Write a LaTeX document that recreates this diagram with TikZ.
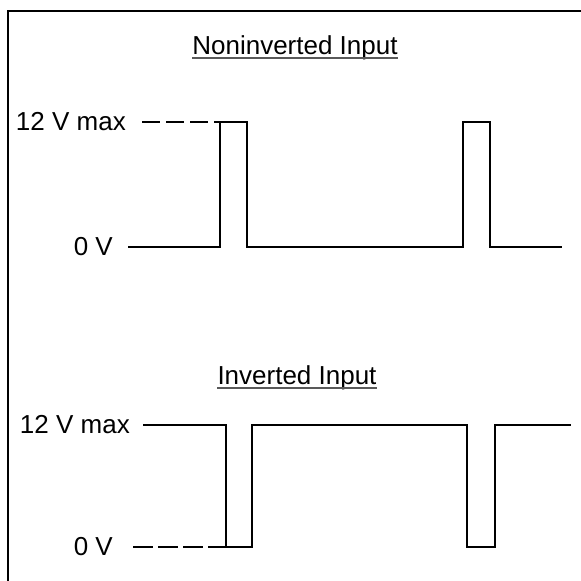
\documentclass[tikz,border=0pt]{standalone}
\usepackage{fontspec}
\setmainfont{Liberation Sans}
\usetikzlibrary{calc}
\begin{document}
\begin{tikzpicture}[x=1pt,y=-1pt,
  lbl/.style={inner sep=0pt,font=\fontsize{26}{28}\selectfont},
  ttl/.style={inner sep=0pt,anchor=base,font=\fontsize{26}{28}\selectfont},
  wave/.style={line width=2.6pt,line join=miter},
  dashlevel/.style={line width=2.6pt,dash pattern=on 18pt off 6pt},
  frame/.style={line width=2pt},
  uline/.style={line width=1.2pt,gray!70!black}]
\useasboundingbox (0,0) rectangle (581,581);
% frame
\coordinate (fc) at (8,11);
\coordinate (fr) at (581,11);
\coordinate (fb) at (8,581);
\draw[frame] (fr) -- (fc) -- (fb);
% titles
\node[ttl] (t1) at (295,54) {Noninverted Input};
\draw[uline] ($(t1.base west)+(0,4)$) -- ($(t1.base east)+(0,4)$);
\node[ttl] (t2) at (297,384) {Inverted Input};
\draw[uline] ($(t2.base west)+(0,4)$) -- ($(t2.base east)+(0,4)$);
% top labels
\node[lbl,anchor=east] (h1) at (126,122) {12 V max};
\node[lbl,anchor=east] (z1) at (113,247) {0 V};
% bottom labels
\node[lbl,anchor=east] (h2) at (130,425) {12 V max};
\node[lbl,anchor=east] (z2) at (113,547) {0 V};
% top waveform
\coordinate (a0) at (128,247);
\coordinate (a1) at (220,247);
\coordinate (a2) at (220,122);
\coordinate (a3) at (247,122);
\coordinate (a4) at (247,247);
\coordinate (a5) at (463,247);
\coordinate (a6) at (463,122);
\coordinate (a7) at (490,122);
\coordinate (a8) at (490,247);
\coordinate (a9) at (562,247);
\coordinate (d1) at (142,122);
\draw[dashlevel] (d1) -- (a2);
\draw[wave] (a0) -- (a1) -- (a2) -- (a3) -- (a4) -- (a5) -- (a6) -- (a7) -- (a8) -- (a9);
% bottom waveform
\coordinate (b0) at (143,425);
\coordinate (b1) at (226,425);
\coordinate (b2) at (226,547);
\coordinate (b3) at (252,547);
\coordinate (b4) at (252,425);
\coordinate (b5) at (467,425);
\coordinate (b6) at (467,547);
\coordinate (b7) at (495,547);
\coordinate (b8) at (495,425);
\coordinate (b9) at (571,425);
\coordinate (d2) at (133,547);
\draw[dashlevel,dash pattern=on 20pt off 5pt] (d2) -- (b2);
\draw[wave] (b0) -- (b1) -- (b2) -- (b3) -- (b4) -- (b5) -- (b6) -- (b7) -- (b8) -- (b9);
\end{tikzpicture}
\end{document}
